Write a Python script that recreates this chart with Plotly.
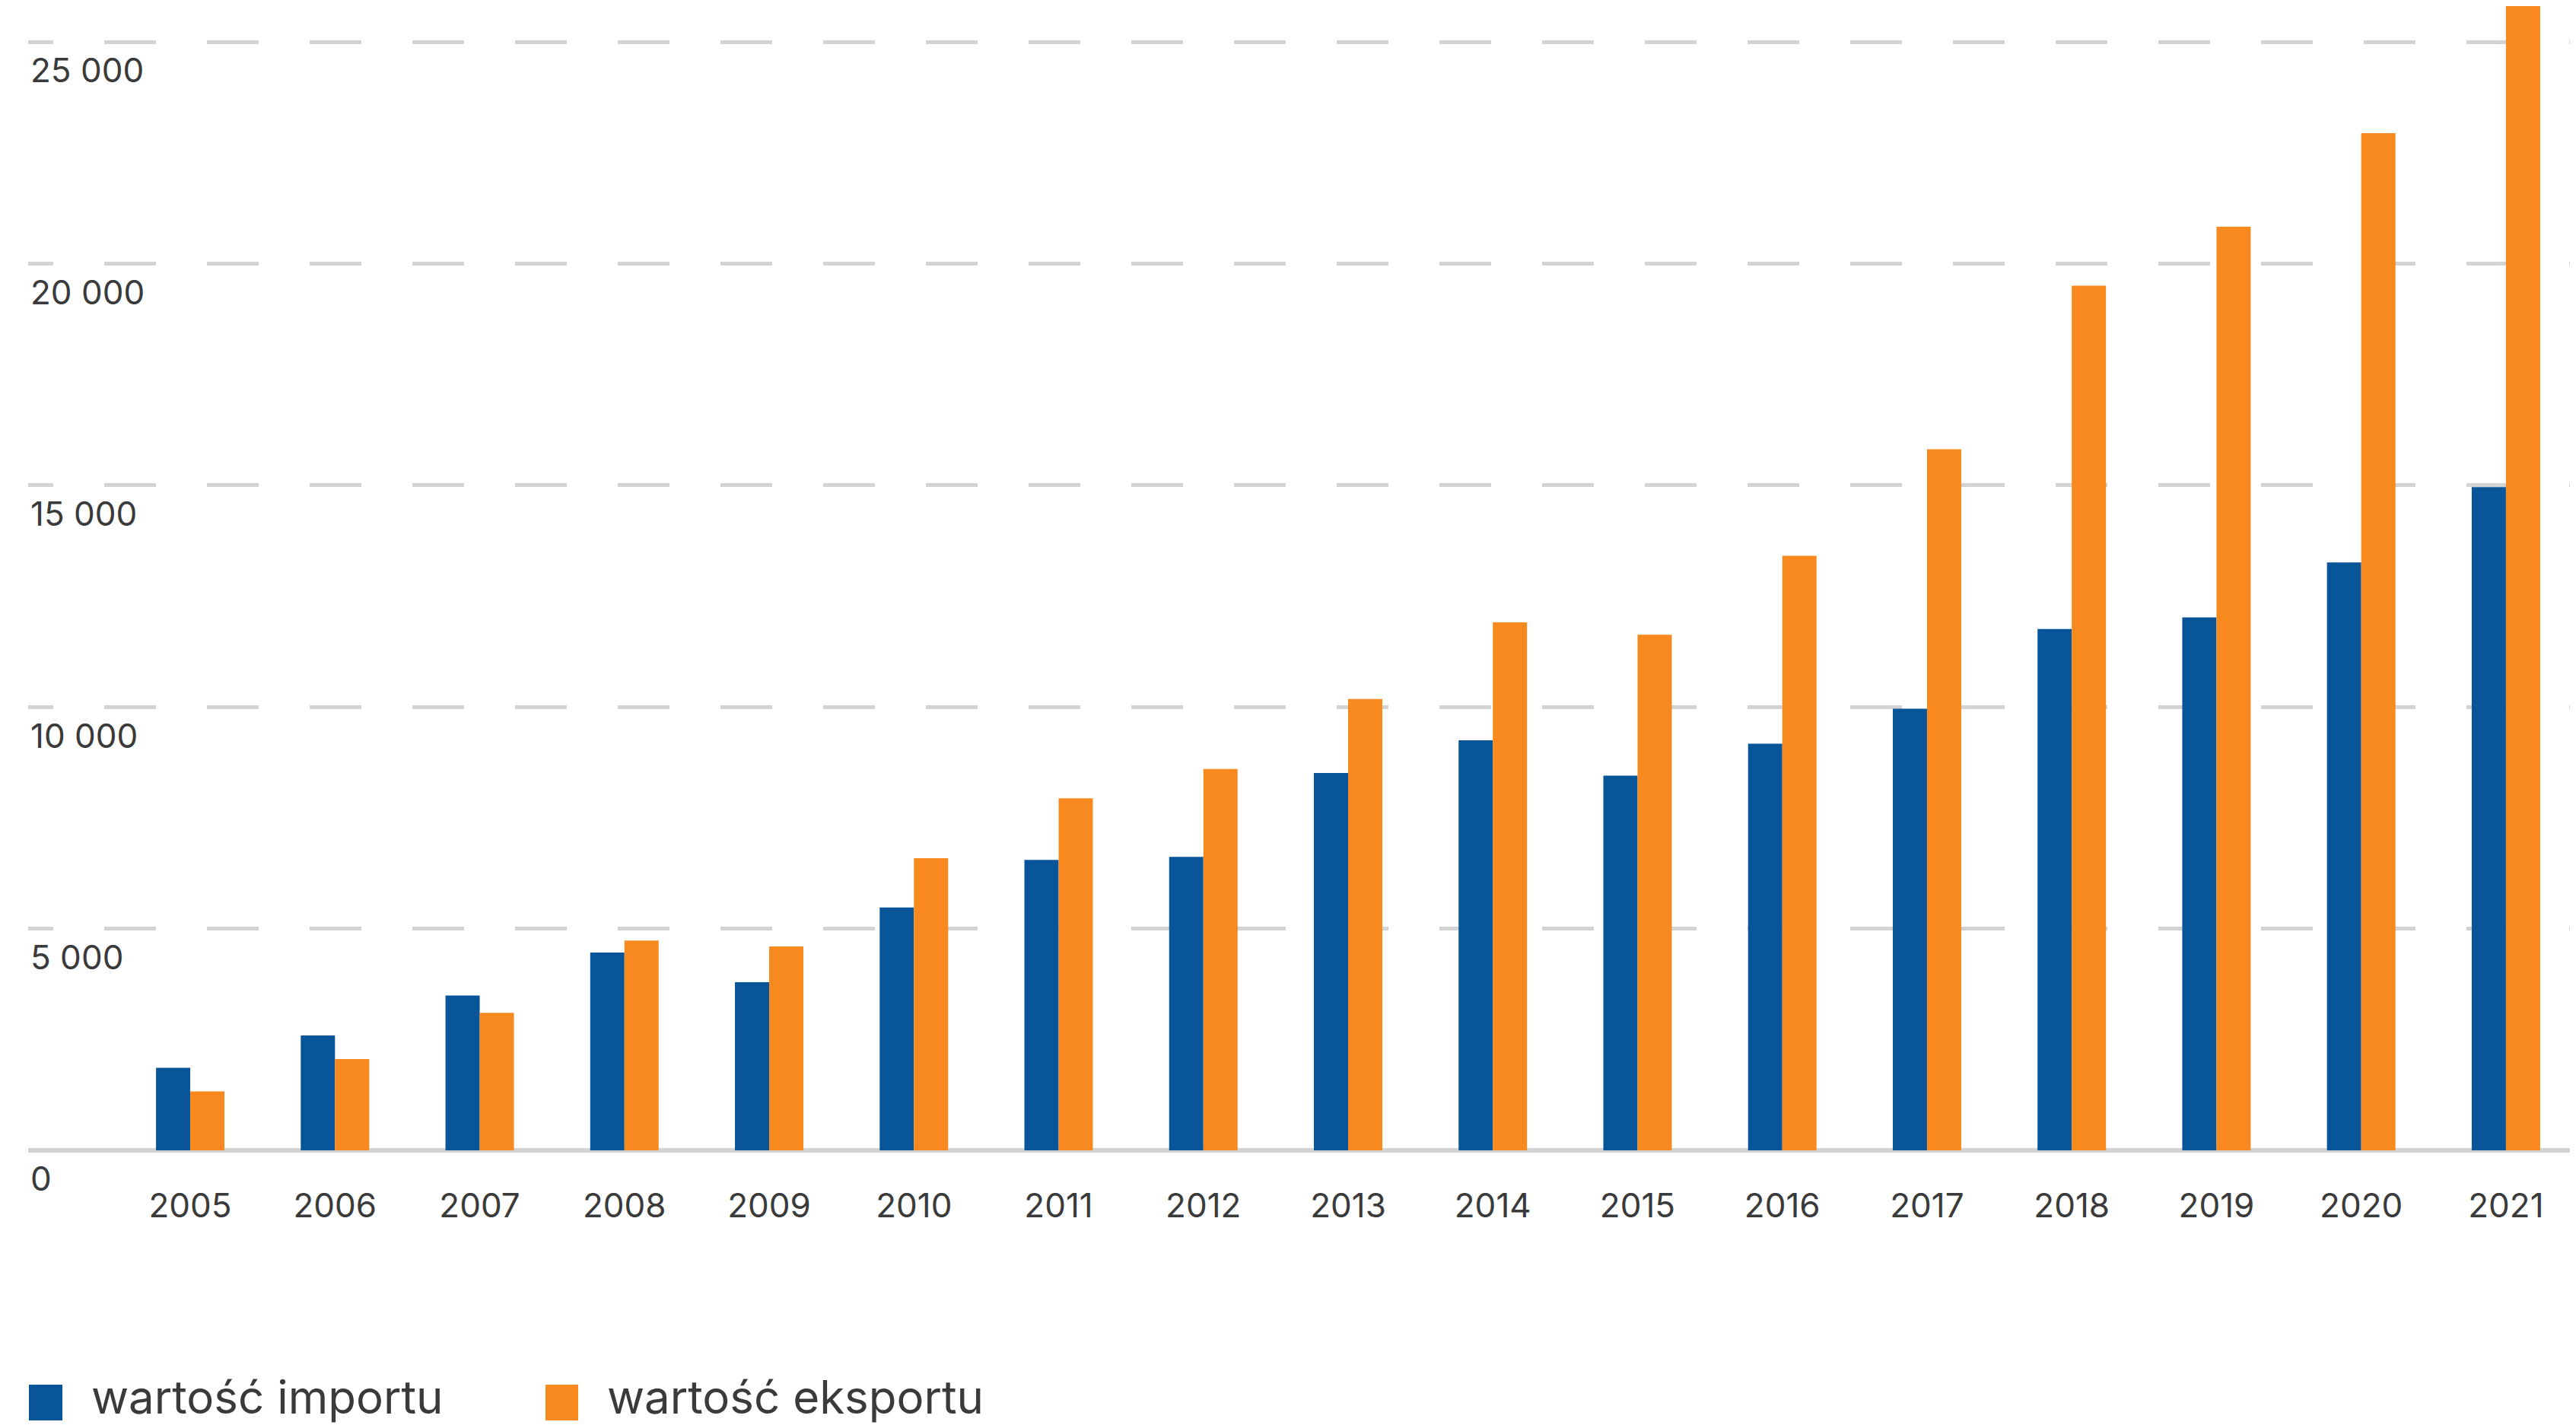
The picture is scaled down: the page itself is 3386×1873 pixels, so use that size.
import plotly.graph_objects as go

years = ["2005", "2006", "2007", "2008", "2009", "2010", "2011", "2012", "2013",
         "2014", "2015", "2016", "2017", "2018", "2019", "2020", "2021"]
import_values = [1860, 2590, 3490, 4460, 3790, 5480, 6550, 6620, 8510,
                 9250, 8450, 9170, 9960, 11760, 12020, 13260, 14960]
export_values = [1330, 2060, 3100, 4730, 4600, 6590, 7940, 8600, 10180,
                 11910, 11630, 13410, 15810, 19500, 20830, 22940, 27000]
series_names = ["wartość importu", "wartość eksportu"]
y_tick_values = [0, 5000, 10000, 15000, 20000, 25000]
y_tick_labels = ["0", "5 000", "10 000", "15 000", "20 000", "25 000"]

BLUE = "#08559A"
ORANGE = "#F7891F"
GRID = "#D3D3D3"
TEXT = "#3A3A3A"
FONT = "Inter, Lato, sans-serif"

W, H = 3386, 1873
OFF = 8  # default page body margin offsets the figure by 8px

# plot area in figure pixel coordinates
plot_left = 37 - OFF
plot_right = W - OFF
plot_top = 0
plot_bottom = 1517 - OFF
plot_w = plot_right - plot_left
plot_h = plot_bottom - plot_top


def px_x(page_x):
    return (page_x - OFF - plot_left) / plot_w


def px_y(page_y):
    return (plot_bottom - (page_y - OFF)) / plot_h


fig = go.Figure()
fig.add_trace(go.Bar(x=years, y=import_values, name=series_names[0], showlegend=False,
                     marker=dict(color=BLUE, line=dict(width=0))))
fig.add_trace(go.Bar(x=years, y=export_values, name=series_names[1], showlegend=False,
                     marker=dict(color=ORANGE, line=dict(width=0))))

dash = ",".join(["33px", "67px"] + ["68px", "67px"] * 26)

# legend with large square swatches, like the reference
legend_items = [(series_names[0], BLUE, 38, 82, 119), (series_names[1], ORANGE, 717, 760, 797)]
shapes = []
annotations = []
for name, color, x0, x1, tx in legend_items:
    shapes.append(dict(type="rect", xref="paper", yref="paper",
                       x0=px_x(x0), x1=px_x(x1), y0=px_y(1867), y1=px_y(1820),
                       fillcolor=color, line=dict(width=0), layer="above"))
    annotations.append(dict(text=name, xref="paper", yref="paper",
                            x=px_x(tx), y=px_y(1873), xanchor="left", yanchor="bottom",
                            showarrow=False, borderpad=0,
                            font=dict(size=60, color=TEXT, family=FONT)))

px_per_unit = 1457 / 25000
zero_px = 1512 - OFF
y_min = -(plot_bottom - zero_px) / px_per_unit
y_max = (zero_px - plot_top) / px_per_unit

fig.update_layout(
    width=W, height=H,
    margin=dict(l=plot_left, r=W - plot_right, t=plot_top, b=H - plot_bottom,
                pad=0, autoexpand=False),
    paper_bgcolor="white", plot_bgcolor="white",
    barmode="group", bargap=0.527, bargroupgap=0,
    font=dict(family=FONT, color=TEXT, size=44),
    showlegend=False,
    shapes=shapes, annotations=annotations,
    xaxis=dict(type="category", range=[-1.12, 16.484], showgrid=False,
               showline=False, zeroline=False, ticks="",
               ticklabelstandoff=38,
               tickfont=dict(size=44, color=TEXT, family=FONT)),
    yaxis=dict(range=[y_min, y_max], tickvals=y_tick_values, ticktext=y_tick_labels,
               showgrid=True, gridcolor=GRID, gridwidth=5, griddash=dash,
               zeroline=True, zerolinecolor=GRID, zerolinewidth=6,
               showline=False, ticks="",
               ticklabelposition="inside", ticklabeloverflow="allow",
               ticklabelshift=38, ticklabelstandoff=0,
               tickfont=dict(size=44, color=TEXT, family=FONT)),
)

fig.write_html("out.html")
